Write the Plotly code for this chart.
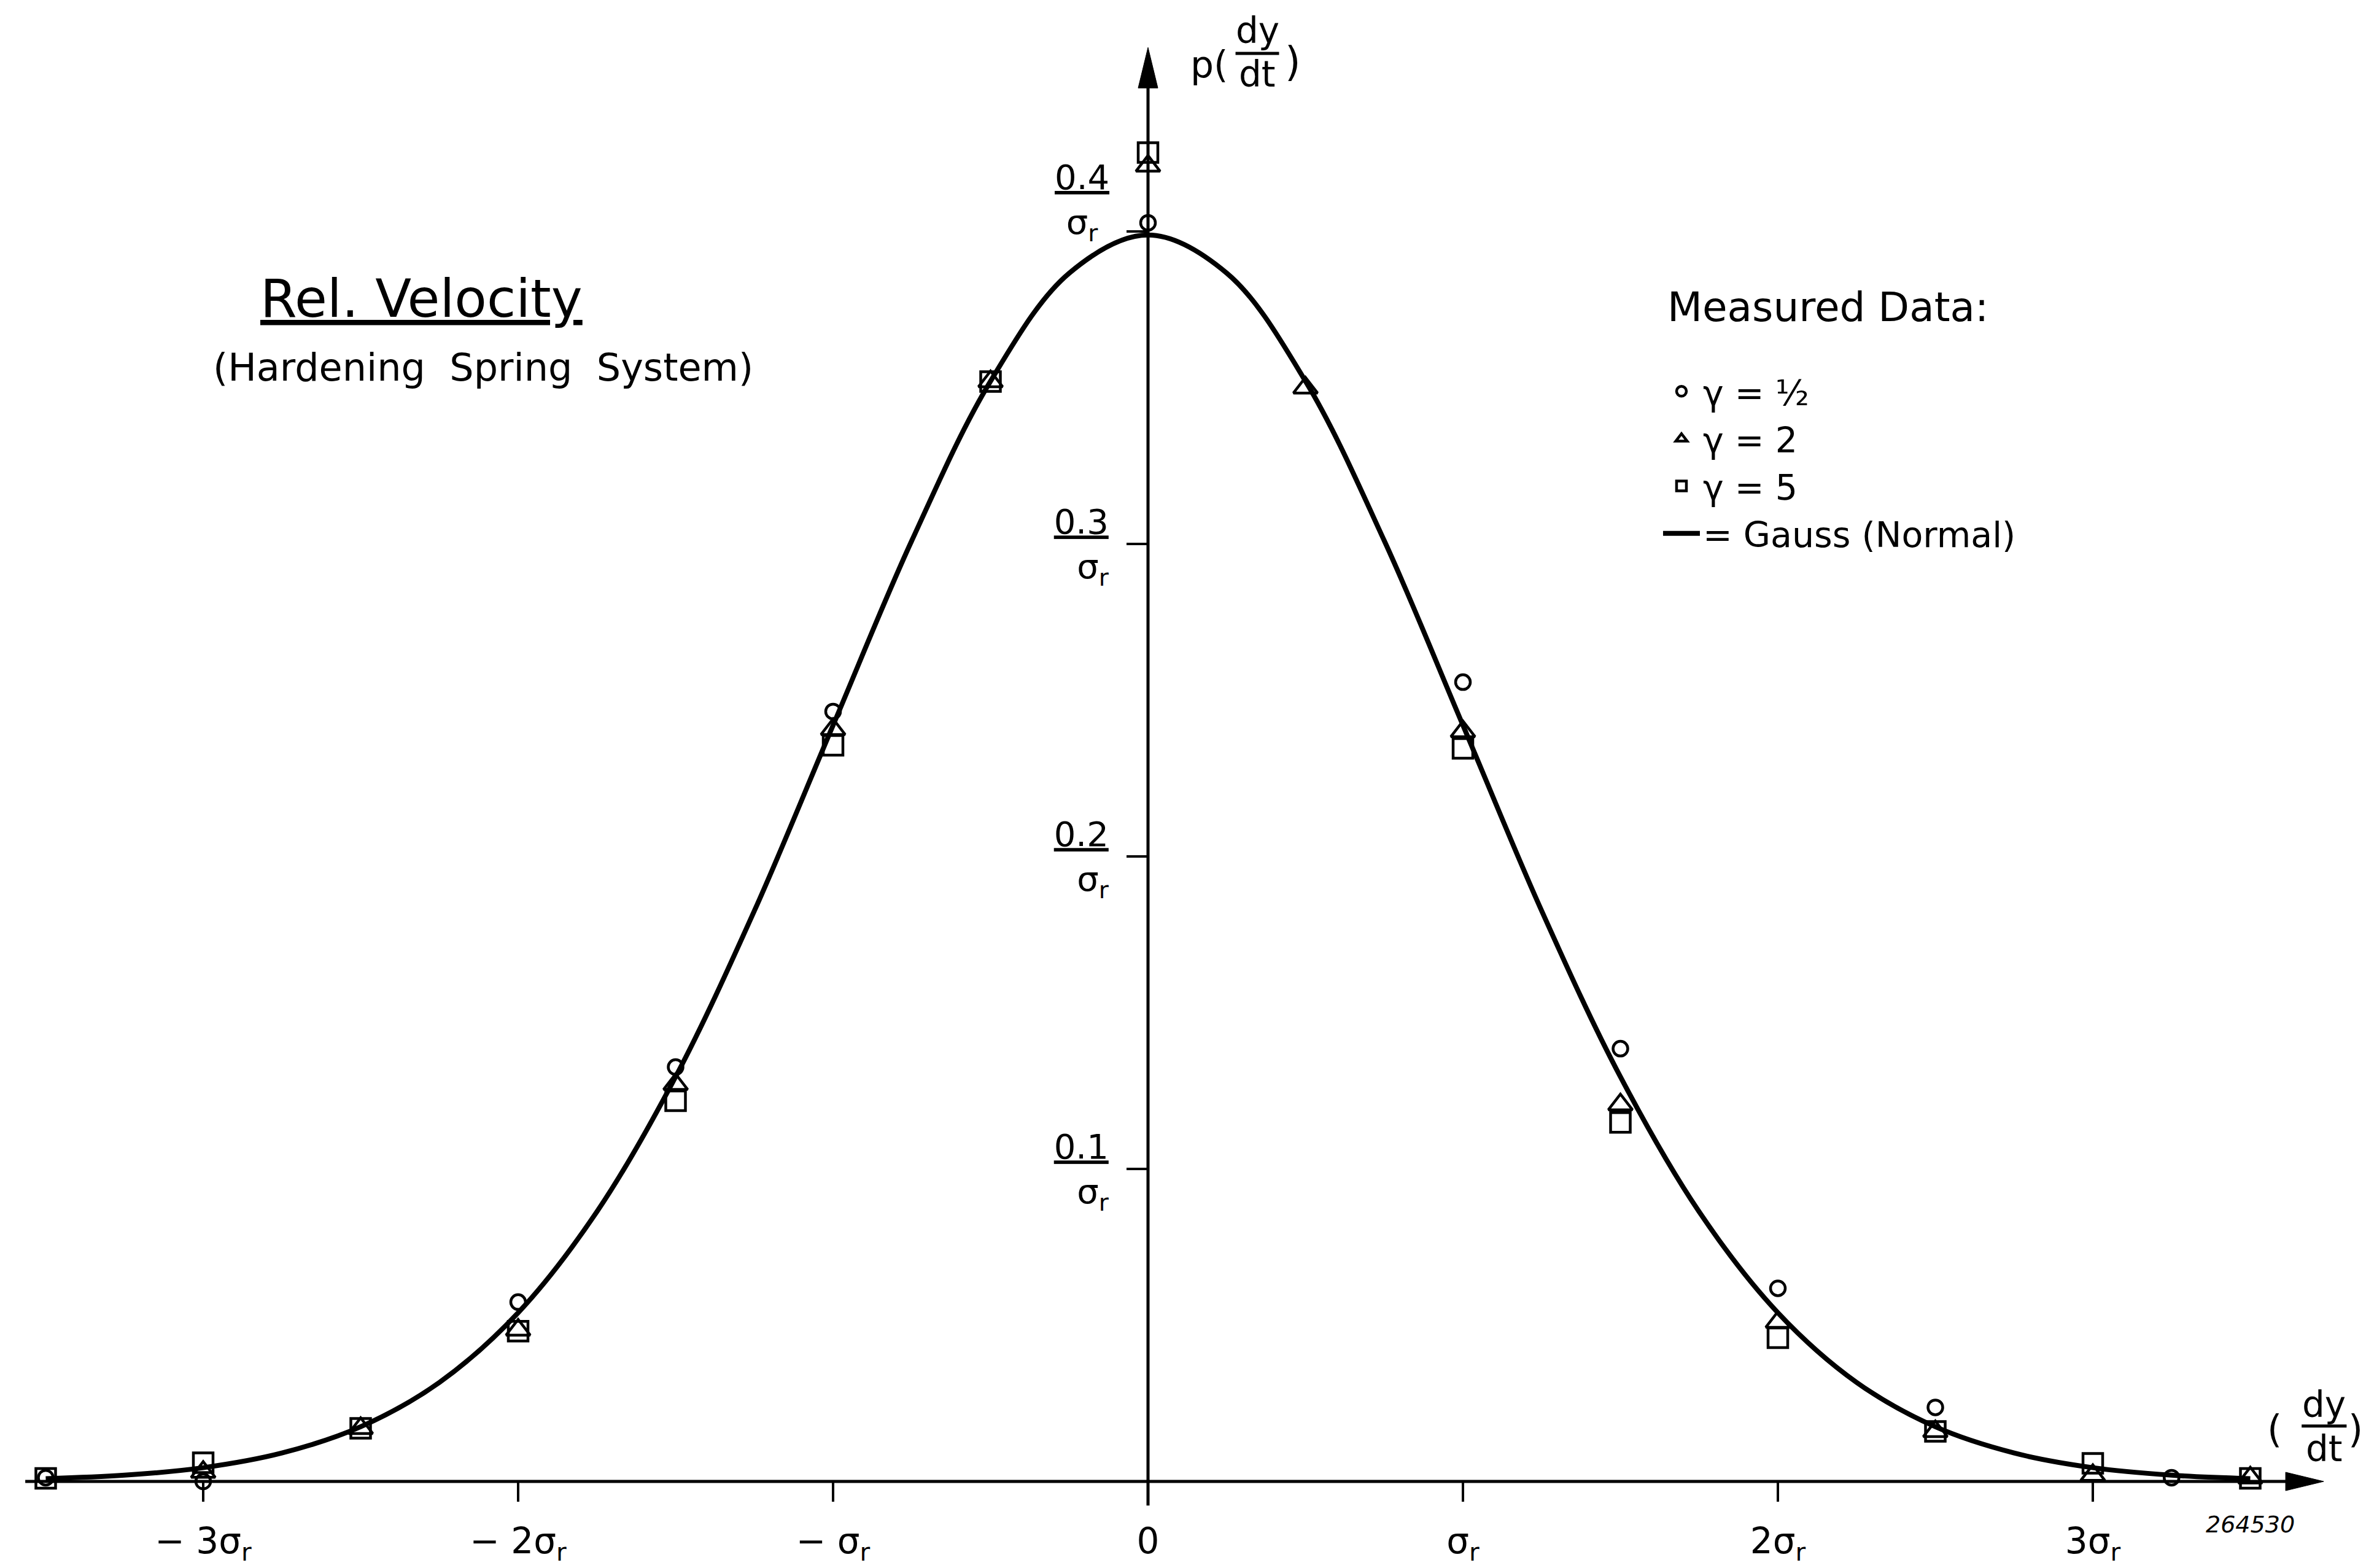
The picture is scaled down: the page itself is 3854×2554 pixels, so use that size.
import plotly.graph_objects as go

# Measurement points, abscissa in units of sigma_r
x_half = [-3.5, -3.0, -2.0, -1.5, -1.0, 0.0, 1.0, 1.5, 2.0, 2.5, 3.25]
p_half = [0.0012, 0.0, 0.0574, 0.1326, 0.2464, 0.4028, 0.2558, 0.1385, 0.0618, 0.0237, 0.0012]

x_two = [-3.0, -2.5, -2.0, -1.5, -1.0, -0.5, 0.0, 0.5, 1.0, 1.5, 2.0, 2.5, 3.0, 3.5]
p_two = [0.003, 0.017, 0.0485, 0.1271, 0.2407, 0.352, 0.421, 0.350, 0.240, 0.1206, 0.051, 0.016, 0.002, 0.0012]

x_five = [-3.5, -3.0, -2.5, -2.0, -1.5, -1.0, -0.5, 0.0, 1.0, 1.5, 2.0, 2.5, 3.0, 3.5]
p_five = [0.001, 0.006, 0.017, 0.0481, 0.1218, 0.2356, 0.352, 0.4253, 0.2346, 0.1149, 0.046, 0.016, 0.0058, 0.001]

# Standard normal density (tabulated)
x_gauss = [-3.5, -3.25, -3.0, -2.75, -2.5, -2.25, -2.0, -1.75, -1.5, -1.25, -1.0, -0.75,
           -0.5, -0.25, 0.0, 0.25, 0.5, 0.75, 1.0, 1.25, 1.5, 1.75, 2.0, 2.25, 2.5,
           2.75, 3.0, 3.25, 3.5]
p_gauss = [0.0009, 0.0020, 0.0044, 0.0091, 0.0175, 0.0317, 0.0540, 0.0863, 0.1295, 0.1826,
           0.2420, 0.3011, 0.3521, 0.3867, 0.3989, 0.3867, 0.3521, 0.3011, 0.2420, 0.1826,
           0.1295, 0.0863, 0.0540, 0.0317, 0.0175, 0.0091, 0.0044, 0.0020, 0.0009]

x_tick_vals = [-3, -2, -1, 0, 1, 2, 3]
x_tick_text = ["− 3σ<sub>r</sub>", "− 2σ<sub>r</sub>", "− σ<sub>r</sub>", "0",
               "σ<sub>r</sub>", "2σ<sub>r</sub>", "3σ<sub>r</sub>"]
y_tick_vals = [0.1, 0.2, 0.3, 0.4]
y_tick_text = ["<u>0.1</u><br>σ<sub>r</sub>", "<u>0.2</u><br>σ<sub>r</sub>",
               "<u>0.3</u><br>σ<sub>r</sub>", ""]
# the 0.4 label sits a little above its tick, clear of the curve's crest
top_label_value = 0.4
top_label_text = "<u>0.4</u><br>σ<sub>r</sub>"

FONT = "DejaVu Sans, Liberation Sans, sans-serif"
W, H = 3854, 2554
X_RANGE = [-3.6452, 3.8674]
Y_RANGE = [-0.0277, 0.4741]

fig = go.Figure()

fig.add_trace(go.Scatter(
    x=x_half, y=p_half, mode="markers", name="γ = ½",
    marker=dict(symbol="circle-open", size=24, color="black", line=dict(width=4.5, color="black")),
))
fig.add_trace(go.Scatter(
    x=x_two, y=p_two, mode="markers", name="γ = 2",
    marker=dict(symbol="triangle-up-open", size=34, color="black", line=dict(width=4.5, color="black")),
))
fig.add_trace(go.Scatter(
    x=x_five, y=p_five, mode="markers", name="γ = 5",
    marker=dict(symbol="square-open", size=32, color="black", line=dict(width=4.5, color="black")),
))
fig.add_trace(go.Scatter(
    x=x_gauss, y=p_gauss, mode="lines", name="= Gauss (Normal)",
    line=dict(color="black", width=8, shape="spline", smoothing=1.0),
))

# Axis lines through the origin, with arrowheads
fig.add_shape(type="line", x0=-3.565, x1=3.70, y0=0, y1=0,
              line=dict(color="black", width=5), layer="below")
fig.add_shape(type="line", x0=0, x1=0, y0=-0.0077, y1=0.446,
              line=dict(color="black", width=5), layer="below")
fig.add_shape(type="path", xsizemode="pixel", ysizemode="pixel",
              xanchor=3.733, yanchor=0, path="M0,0 L-62,15 L-62,-15 Z",
              fillcolor="black", line=dict(color="black", width=1))
fig.add_shape(type="path", xsizemode="pixel", ysizemode="pixel",
              xanchor=0, yanchor=0.4589, path="M0,0 L-16,-66 L16,-66 Z",
              fillcolor="black", line=dict(color="black", width=1))

# fraction bars of the axis titles
fig.add_shape(type="line", xref="paper", yref="paper", x0=0.5222, x1=0.5406, y0=0.9659, y1=0.9659,
              line=dict(color="black", width=5))
fig.add_shape(type="line", xref="paper", yref="paper", x0=0.9728, x1=0.9918, y0=0.0905, y1=0.0905,
              line=dict(color="black", width=5))


def label(text, x, y, size, xref="paper", yref="paper"):
    return dict(text=text, x=x, y=y, xref=xref, yref=yref, xanchor="center", yanchor="middle",
                showarrow=False, font=dict(size=size, family=FONT, color="black"))


ann = [
    # y-axis title p(dy/dt)
    label("p(", 0.5112, 0.9589, 60),
    label("dy", 0.5314, 0.9806, 58),
    label("dt", 0.5314, 0.9525, 58),
    label(")", 0.5465, 0.9608, 66),
    # x-axis title (dy/dt)
    label("(", 0.9613, 0.0885, 62),
    label("dy", 0.9823, 0.1040, 58),
    label("dt", 0.9823, 0.0760, 58),
    label(")", 0.9955, 0.0885, 62),
    # drawing number
    label("<i>264530</i>", 0.951, 0.0278, 38),
    # title block
    label("<u>Rel. Velocity</u>", 0.178, 0.8097, 86),
    label("(Hardening\u00a0\u00a0Spring\u00a0\u00a0System)", 0.2042, 0.7655, 62),
    # legend heading
    label("Measured Data:", 0.7725, 0.8042, 66),
    # 0.4 tick label
    label(top_label_text, -0.209, top_label_value + 0.0095, 56, xref="x", yref="y"),
]

fig.update_layout(
    width=W, height=H,
    margin=dict(l=0, r=0, t=0, b=0, pad=0, autoexpand=False),
    paper_bgcolor="white", plot_bgcolor="white",
    font=dict(family=FONT, color="black"),
    annotations=ann,
    showlegend=True,
    legend=dict(
        x=0.7016, y=0.7675, xanchor="left", yanchor="top",
        bgcolor="rgba(0,0,0,0)", borderwidth=0,
        font=dict(size=57, family=FONT, color="black"),
        itemwidth=60, tracegroupgap=0,
    ),
    xaxis=dict(
        range=X_RANGE, anchor="free", position=(H - 2413) / H, automargin=False,
        showgrid=False, zeroline=False, showline=False,
        ticks="outside", ticklen=32, tickwidth=4, tickcolor="black",
        tickvals=x_tick_vals, ticktext=x_tick_text, ticklabelstandoff=14,
        tickfont=dict(size=58, family=FONT, color="black"),
    ),
    yaxis=dict(
        range=Y_RANGE, anchor="free", position=1870 / W, automargin=False,
        showgrid=False, zeroline=False, showline=False,
        ticks="outside", ticklen=35, tickwidth=4, tickcolor="black",
        tickvals=y_tick_vals, ticktext=y_tick_text, ticklabelstandoff=18,
        tickfont=dict(size=56, family=FONT, color="black"),
    ),
)

fig.write_html("out.html")
